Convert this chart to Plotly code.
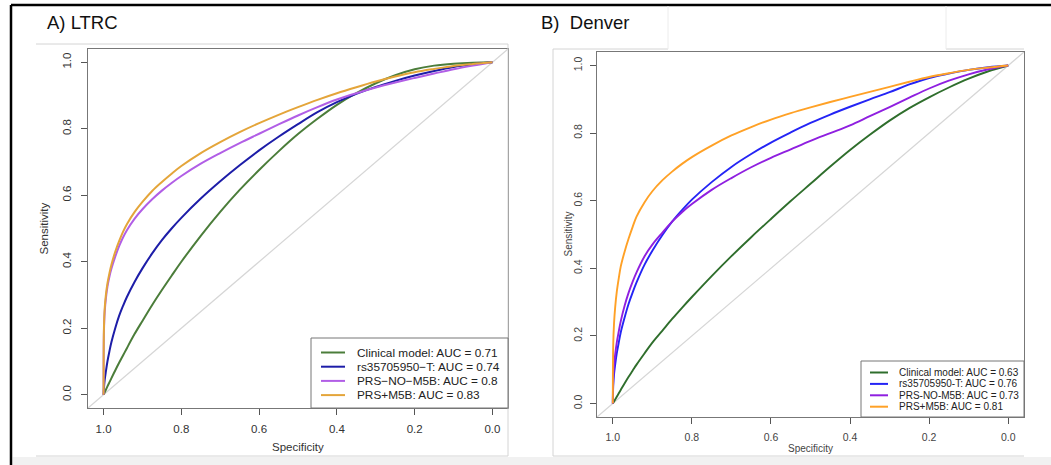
import plotly.graph_objects as go

W, H = 1051, 465
FONT = "Liberation Sans, Arial, Helvetica, sans-serif"

# Specificity grid shared by all curves (dense near 1.0 where the curves rise steeply)
specificity = [1.0, 0.999, 0.997, 0.994, 0.99, 0.985, 0.98, 0.97, 0.96, 0.95, 0.94,
               0.92, 0.9, 0.875, 0.85, 0.825, 0.8, 0.75, 0.7, 0.65, 0.6, 0.55, 0.5,
               0.45, 0.4, 0.35, 0.3, 0.25, 0.2, 0.15, 0.1, 0.05, 0.0]

# ---------------- Panel A: LTRC (sensitivity at each specificity) ----------------
ltrc_clinical = [0, 0.0025, 0.0075, 0.015, 0.025, 0.037, 0.049, 0.073, 0.096, 0.118, 0.14,
                 0.183, 0.222, 0.27, 0.315, 0.358, 0.40, 0.478, 0.55, 0.616, 0.676, 0.732,
                 0.784, 0.83, 0.872, 0.907, 0.937, 0.961, 0.979, 0.99, 0.996, 0.999, 1.0]
ltrc_rs = [0, 0.02, 0.045, 0.07, 0.1, 0.13, 0.157, 0.2, 0.237, 0.267, 0.294,
           0.34, 0.38, 0.425, 0.465, 0.5, 0.532, 0.59, 0.642, 0.69, 0.735, 0.776,
           0.814, 0.85, 0.88, 0.905, 0.926, 0.944, 0.96, 0.974, 0.986, 0.994, 1.0]
ltrc_prs_no_m5b = [0, 0.19, 0.25, 0.29, 0.325, 0.355, 0.378, 0.415, 0.447, 0.473, 0.495,
                   0.53, 0.558, 0.588, 0.614, 0.637, 0.658, 0.695, 0.727, 0.757, 0.785, 0.813,
                   0.84, 0.865, 0.888, 0.907, 0.924, 0.939, 0.953, 0.966, 0.979, 0.99, 1.0]
ltrc_prs_m5b = [0, 0.20, 0.26, 0.30, 0.335, 0.365, 0.39, 0.43, 0.462, 0.49, 0.513,
                0.55, 0.58, 0.613, 0.64, 0.665, 0.688, 0.727, 0.76, 0.79, 0.817, 0.842,
                0.865, 0.887, 0.907, 0.925, 0.942, 0.957, 0.97, 0.98, 0.989, 0.995, 1.0]
ltrc_labels = ["Clinical model", "rs35705950\u2212T", "PRS\u2212NO\u2212M5B", "PRS+M5B"]
ltrc_auc = [0.71, 0.74, 0.8, 0.83]
ltrc_colors = ["#4b7d3a", "#1d1da8", "#b15ee6", "#e4a53a"]

# ---------------- Panel B: Denver (sensitivity at each specificity) ----------------
denver_clinical = [0, 0.002, 0.006, 0.012, 0.02, 0.03, 0.04, 0.06, 0.079, 0.097, 0.115,
                   0.148, 0.18, 0.215, 0.25, 0.283, 0.315, 0.377, 0.436, 0.492, 0.546, 0.599,
                   0.65, 0.701, 0.75, 0.795, 0.837, 0.874, 0.906, 0.935, 0.961, 0.983, 1.0]
denver_rs = [0, 0.05, 0.085, 0.115, 0.148, 0.18, 0.21, 0.255, 0.295, 0.328, 0.358,
             0.41, 0.452, 0.498, 0.538, 0.572, 0.603, 0.655, 0.7, 0.738, 0.772, 0.802,
             0.83, 0.855, 0.878, 0.9, 0.921, 0.944, 0.963, 0.976, 0.987, 0.995, 1.0]
denver_prs_no_m5b = [0, 0.07, 0.11, 0.145, 0.18, 0.213, 0.243, 0.29, 0.328, 0.36, 0.388,
                     0.435, 0.47, 0.505, 0.538, 0.566, 0.59, 0.632, 0.667, 0.699, 0.727, 0.752,
                     0.777, 0.8, 0.823, 0.85, 0.877, 0.905, 0.932, 0.955, 0.974, 0.989, 1.0]
denver_prs_m5b = [0, 0.17, 0.235, 0.285, 0.33, 0.37, 0.405, 0.45, 0.488, 0.522, 0.553,
                  0.595, 0.628, 0.66, 0.686, 0.709, 0.729, 0.763, 0.793, 0.818, 0.84, 0.859,
                  0.876, 0.892, 0.907, 0.922, 0.937, 0.952, 0.966, 0.977, 0.987, 0.994, 1.0]
denver_labels = ["Clinical model", "rs35705950-T", "PRS-NO-M5B", "PRS+M5B"]
denver_auc = [0.63, 0.76, 0.73, 0.81]
denver_colors = ["#2f6e2c", "#2424f5", "#8f1fe0", "#ffa126"]

tick_vals = [1.0, 0.8, 0.6, 0.4, 0.2, 0.0]
tick_text = ["1.0", "0.8", "0.6", "0.4", "0.2", "0.0"]


def px(x):
    return x / W


def py(y):
    return 1 - y / H


fig = go.Figure()

panels = [
    dict(xa="x", ya="y",
         series=[ltrc_clinical, ltrc_rs, ltrc_prs_no_m5b, ltrc_prs_m5b],
         labels=ltrc_labels, auc=ltrc_auc, colors=ltrc_colors, width=2.0),
    dict(xa="x2", ya="y2",
         series=[denver_clinical, denver_rs, denver_prs_no_m5b, denver_prs_m5b],
         labels=denver_labels, auc=denver_auc, colors=denver_colors, width=1.9),
]

for p in panels:
    for sens, col in zip(p["series"], p["colors"]):
        fig.add_trace(go.Scatter(
            x=specificity, y=sens, mode="lines", xaxis=p["xa"], yaxis=p["ya"],
            line=dict(color=col, width=p["width"], shape="spline", smoothing=1.0),
            showlegend=False, hoverinfo="skip"))

# plot boxes in pixels: (left, top, right, bottom)
box_a = (88, 49, 508, 408)
box_b = (597, 52, 1024, 417)

axis_common = dict(range=[1.04, -0.04], tickvals=tick_vals, ticktext=tick_text,
                   ticks="outside", ticklen=6, tickcolor="#555", showgrid=False,
                   zeroline=False, showline=True, mirror=True, linecolor="#777",
                   linewidth=1, fixedrange=True)
yaxis_common = dict(range=[-0.04, 1.04], tickvals=tick_vals, ticktext=tick_text,
                    ticks="outside", ticklen=6, tickcolor="#555", showgrid=False,
                    zeroline=False, showline=True, mirror=True, linecolor="#777",
                    linewidth=1, tickangle=-90, fixedrange=True)

fig.update_layout(
    xaxis=dict(axis_common, domain=[px(box_a[0]), px(box_a[2])], anchor="y",
               tickfont=dict(family=FONT, size=11.5, color="#333"), ticklabelstandoff=4),
    yaxis=dict(yaxis_common, domain=[py(box_a[3]), py(box_a[1])], anchor="x",
               tickfont=dict(family=FONT, size=11.5, color="#333"), ticklabelstandoff=5),
    xaxis2=dict(axis_common, domain=[px(box_b[0]), px(box_b[2])], anchor="y2",
                tickfont=dict(family=FONT, size=10.5, color="#444"), ticklabelstandoff=4),
    yaxis2=dict(yaxis_common, domain=[py(box_b[3]), py(box_b[1])], anchor="x2",
                tickfont=dict(family=FONT, size=10.5, color="#444"), ticklabelstandoff=4),
)

shapes = []
annotations = []

# chance diagonal across each plot region
for xr, yr in (("x domain", "y domain"), ("x2 domain", "y2 domain")):
    shapes.append(dict(type="line", xref=xr, yref=yr, x0=0, y0=0, x1=1, y1=1,
                       line=dict(color="#d6d6d6", width=1.2), layer="below"))


def pline(x0, y0, x1, y1, color, width=1):
    shapes.append(dict(type="line", xref="paper", yref="paper",
                       x0=px(x0), y0=py(y0), x1=px(x1), y1=py(y1),
                       line=dict(color=color, width=width)))


def ptext(x, y, text, size, color="#222", xanchor="left", angle=0):
    annotations.append(dict(xref="paper", yref="paper", x=px(x), y=py(y), text=text,
                            showarrow=False, xanchor=xanchor, yanchor="middle",
                            textangle=angle,
                            font=dict(family=FONT, size=size, color=color)))


# outer frame
pline(11, 5, 1060, 5, "#000", 2.5)
pline(11, 5, 11, 470, "#000", 2.5)
shapes.append(dict(type="rect", xref="paper", yref="paper", x0=px(12.5), x1=1.0,
                   y0=0, y1=py(457), line=dict(width=0), fillcolor="#f1f1f1",
                   layer="below"))

# frames around each figure panel
border = "#d4d4d4"
pline(36, 44, 508, 44, border)
pline(36, 456, 508, 456, border)
pline(508, 44, 508, 456, border)
pline(553, 49, 668, 49, border)
pline(946, 49, 1024, 49, border)
pline(553, 49, 553, 456, border)
pline(553, 456, 1024, 456, border)
pline(668, 6, 668, 49, "#ececec")
pline(946, 6, 946, 49, "#ececec")

# panel titles
ptext(45, 23, "A) LTRC", 18.5, "#111")
ptext(539, 23, "B)\u00a0 Denver", 18.5, "#111")

# axis titles
ptext((box_a[0] + box_a[2]) / 2, 447, "Specificity", 11.5, "#333", "center")
ptext(43, (box_a[1] + box_a[3]) / 2, "Sensitivity", 11.5, "#333", "center", -90)
ptext((box_b[0] + box_b[2]) / 2, 448, "Specificity", 10, "#444", "center")
ptext(568, (box_b[1] + box_b[3]) / 2, "Sensitivity", 10, "#444", "center", -90)

# legends: (box left, box top, line x0, line x1, text x, first row y, row step, font)
legend_specs = [
    (panels[0], box_a, 311, 338, 321, 345, 355, 352.5, 14.2, 11.8),
    (panels[1], box_b, 861, 361, 870, 888, 897, 372.5, 11.4, 10.0),
]
for p, box, lx, ly, l0, l1, tx, y0, step, fs in legend_specs:
    shapes.append(dict(type="rect", xref="paper", yref="paper",
                       x0=px(lx), x1=px(box[2]), y0=py(box[3]), y1=py(ly),
                       line=dict(color="#777", width=1), fillcolor="white"))
    for i, (name, auc, col) in enumerate(zip(p["labels"], p["auc"], p["colors"])):
        yy = y0 + i * step
        pline(l0, yy, l1, yy, col, 2)
        ptext(tx, yy, f"{name}: AUC = {auc}", fs, "#222")

fig.update_layout(
    width=W, height=H, margin=dict(l=0, r=0, t=0, b=0),
    paper_bgcolor="white", plot_bgcolor="white",
    shapes=shapes, annotations=annotations, showlegend=False,
    font=dict(family=FONT),
)

fig.write_html("out.html")
